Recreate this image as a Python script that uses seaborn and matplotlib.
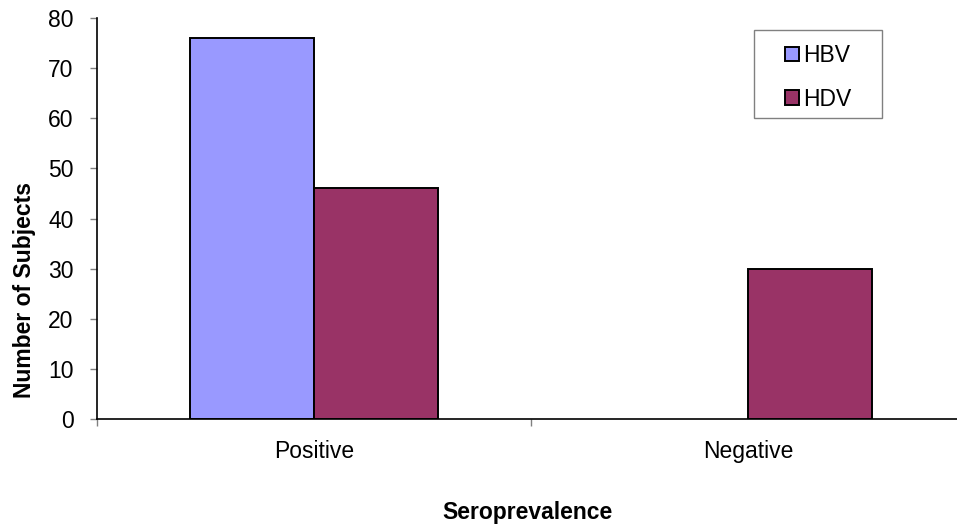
import matplotlib
matplotlib.use("Agg")
import matplotlib.pyplot as plt
import seaborn as sns
import pandas as pd
from matplotlib.ticker import FixedLocator
from matplotlib.patches import Rectangle

categories = ["Positive", "Negative"]
series = ["HBV", "HDV"]
hbv_values = [76, 0]
hdv_values = [46, 30]
y_ticks = [0, 10, 20, 30, 40, 50, 60, 70, 80]

df = pd.DataFrame({
    "Seroprevalence": categories * 2,
    "Virus": [series[0]] * len(categories) + [series[1]] * len(categories),
    "Number of Subjects": hbv_values + hdv_values,
})

sns.set_style("white")
plt.rcParams["font.family"] = ["Liberation Sans", "DejaVu Sans"]
plt.rcParams["text.color"] = "black"
plt.rcParams["axes.labelcolor"] = "black"
plt.rcParams["xtick.color"] = "black"
plt.rcParams["ytick.color"] = "black"

FS = 16.5
W, H = 957, 529
fig = plt.figure(figsize=(W / 100, H / 100), dpi=100)
ax = fig.add_axes([97 / W, 1 - 419 / H, 868 / W, 401 / H])

palette = {"HBV": "#9999FF", "HDV": "#993366"}
sns.barplot(data=df, x="Seroprevalence", y="Number of Subjects", hue="Virus",
            order=categories, hue_order=series, palette=palette,
            width=0.571, edgecolor="black", linewidth=1.4, saturation=1,
            ax=ax, legend=True)

for p in ax.patches:
    if p.get_height() == 0:
        p.set_linewidth(0)

ax.set_xlim(-0.5, 1.5)
ax.set_ylim(0, 80)
ax.set_yticks(y_ticks)
ax.set_yticklabels([str(v) for v in y_ticks], fontsize=FS)
ax.set_xticks(range(len(categories)))
ax.set_xticklabels(categories, fontsize=FS)
ax.xaxis.set_minor_locator(FixedLocator([-0.5, 0.5, 1.5]))
ax.tick_params(axis="x", which="major", bottom=True, length=0, pad=15)
ax.tick_params(axis="x", which="minor", bottom=True, length=5, width=1,
               color="#808080", direction="out")
ax.tick_params(axis="y", which="major", left=True, length=5, width=1,
               color="#808080", direction="out", pad=12)

for side in ["top", "right"]:
    ax.spines[side].set_visible(False)
for side in ["left", "bottom"]:
    ax.spines[side].set_color("black")
    ax.spines[side].set_linewidth(1.2)

ax.set_xlabel("Seroprevalence", fontsize=FS, fontweight="bold")
ax.set_ylabel("Number of Subjects", fontsize=FS, fontweight="bold")
ax.xaxis.set_label_coords((527 - 97) / 868, -(501 - 419) / 401)
ax.yaxis.set_label_coords((36 - 97) / 868, (419 - 290) / 401)

leg = ax.legend(loc="upper left", bbox_to_anchor=(785 / W, 1 - 44 / H),
                bbox_transform=fig.transFigure,
                frameon=False, fontsize=FS, handlelength=0.61,
                handleheight=0.61, handletextpad=0.18, labelspacing=0.9,
                borderpad=0, borderaxespad=0)
for h in leg.legend_handles:
    h.set_edgecolor("black")
    h.set_linewidth(1.4)
for t in leg.get_texts():
    t.set_color("black")

fig.patches.append(Rectangle((754 / W, 1 - 118 / H), 128 / W, 88 / H,
                             transform=fig.transFigure, fill=False,
                             edgecolor="#808080", linewidth=1.0))

fig.savefig("out.png", dpi=100)
